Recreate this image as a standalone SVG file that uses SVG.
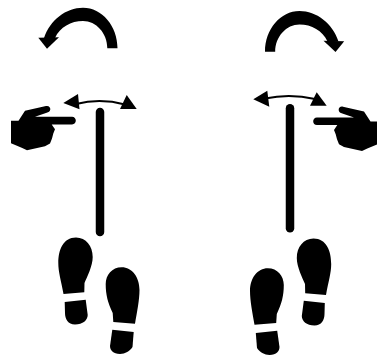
<svg xmlns="http://www.w3.org/2000/svg" xmlns:xlink="http://www.w3.org/1999/xlink" width="377" height="361" viewBox="0 0 377 361">
<style>
.k{fill:#000;stroke:none}
.thin{fill:none;stroke:#000;stroke-width:2}
.post{fill:none;stroke:#000;stroke-width:8.5;stroke-linecap:round}
</style>
<defs>
<g id="curl">
<path class="k" d="M117.500 48.300C117.500 26 102 7.700 83 7.700C66 7.700 50 20 44 38L55 38C60 27 71 21 83 21C96 21 107.300 33 107.300 48.300Z"/>
<path class="k" d="M38.300 37.800L59 37.300L47 48.700Z"/>
</g>
<g id="hand">
<path class="k" d="M11 120.700H18.500L25 110.700L46 106C49 105.400 50.500 107.500 50.300 109.500C50 111.500 48.500 112.300 46.700 112.800L35 116.700H72C74.500 116.700 75.800 118.700 75.800 120.500C75.800 122.500 74.500 124.400 72 124.400H51.700L55 129.300L53.300 133.500L52 138.500L50 143.500L45 146.300L27 150.300L21.700 147.700L11 143.300Z"/>
</g>
<g id="feet">
<path class="k" d="M76 237.500C86 237.500 92.700 246 92.700 257C92.700 266 87 277 84.500 283L84.300 292.300L63.500 294C61 280 58.300 272 58.300 263C58.300 250 63 237.500 76 237.500Z"/>
<path class="k" d="M64.700 302L85.700 299.700L87.700 315C87.700 320 83 324.500 75 324.500C68 324.500 65 319 65 313Z"/>
<path class="k" d="M121.700 267.300C132 267.300 139.500 277 139.500 290C139.500 300 137 312 135 323.700L113.300 322L112.700 313C108 303 105.700 295 105.700 284C105.700 275 112 267.300 121.700 267.300Z"/>
<path class="k" d="M112.300 329.700L133.700 332L132.500 347C130 351 125 354 120 354C113 354 110 350 110 346Z"/>
</g>
</defs>
<g id="left-figure">
<use xlink:href="#curl" href="#curl"/>
<path class="thin" d="M76 104C92 100 108 100 125 104.500"/>
<path class="k" d="M63.300 103L78 94L79.500 109.300Z"/>
<path class="k" d="M126.700 95L136.700 109H120Z"/>
<path class="post" d="M100 112V232"/>
<use xlink:href="#hand" href="#hand"/>
<use xlink:href="#feet" href="#feet"/>
</g>
<g id="right-figure">
<use xlink:href="#curl" href="#curl" transform="translate(382.500 3.400) scale(-1 1)"/>
<path class="thin" d="M265 98.500C281 95 298 95 315 99"/>
<path class="k" d="M253.300 99.300L267.300 90.700L269.300 106.700Z"/>
<path class="k" d="M316.700 92.300L326.700 105.700H310Z"/>
<path class="post" d="M290 108.300V228.300"/>
<use xlink:href="#hand" href="#hand" transform="translate(389 0.700) scale(-1 1)"/>
<use xlink:href="#feet" href="#feet" transform="translate(389.500 1) scale(-1 1)"/>
</g>
</svg>
